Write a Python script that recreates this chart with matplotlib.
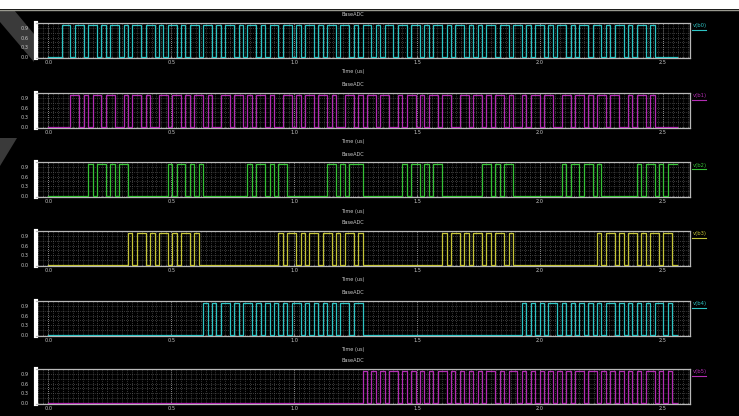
import numpy as np
import matplotlib
matplotlib.use("Agg")
import matplotlib.pyplot as plt
from matplotlib.patches import Polygon

# Sample clock of the logic traces (one character per clock period)
CLOCK_US = 0.018

signal_names = ["v(b0)", "v(b1)", "v(b2)", "v(b3)", "v(b4)", "v(b5)"]
signal_colors = ["#2ec4c4", "#b32db3", "#36c236", "#c4c438", "#2ec4c4", "#b32db3"]

# Logic levels of each ADC bit, one character per clock, grouped by 10 clocks
b0_bits = ("0001101101 1010110101 1011010110 1011011010 1101011010 "
           "1101101011 0101101101 0110101101 1011010110 1011010101 "
           "1011011010 1101011010 1101101011 0101101000 00")
b1_bits = ("0000011010 1101100101 1010011011 0101101001 1011010110 "
           "1001101011 0110100110 1011011001 0110101101 1001101101 "
           "0110100101 1011001101 1010110110 0101101000 00")
b2_bits = ("0000000001 0110101100 0000000101 1010100000 0000010110 "
           "1011000000 0001101011 1000000000 1011010110 0000000011 "
           "0101100000 0000001011 0110100000 0001011010 11")
b3_bits = ("0000000000 0000000010 1101011010 1101000000 0000000000 "
           "0010110101 1011010110 1000000000 0000000001 0110101101 "
           "0110100000 0000000000 0000101101 0110101101 10")
b4_bits = ("0000000000 0000000000 0000000000 0000010101 1010110101 "
           "0101011010 1010101101 1000000000 0000000000 0000000000 "
           "0000000101 0101101010 1010101101 0101010110 10")
b5_bits = ("0000000000 0000000000 0000000000 0000000000 0000000000 "
           "0000000000 0000000000 0101010110 1010101011 0101010101 "
           "1010110101 0101010101 1011010101 0101011010 10")
bit_strings = [b0_bits, b1_bits, b2_bits, b3_bits, b4_bits, b5_bits]

x_ticks = [0.0, 0.5, 1.0, 1.5, 2.0, 2.5]
y_ticks = [0.0, 0.3, 0.6, 0.9]
HIGH_LEVEL = 1.0

W, H = 739, 416
fig = plt.figure(figsize=(W / 100, H / 100), dpi=100)
fig.patch.set_facecolor("black")

# window chrome: white strip along the top and a dark chevron at the left
fig.add_artist(plt.Rectangle((0, 1 - 9 / H), 1, 9 / H, transform=fig.transFigure,
                             facecolor="white", edgecolor="none", zorder=0))
fig.add_artist(plt.Line2D([0, 1], [1 - 9.5 / H, 1 - 9.5 / H], transform=fig.transFigure,
                          color="#9a9a90", lw=1.0))
chevron_upper = [(0, 10), (14, 10), (34, 34), (34, 62), (0, 22)]
chevron_lower = [(0, 138), (17, 138), (0, 166)]
for shape in (chevron_upper, chevron_lower):
    fig.add_artist(Polygon([(x / W, 1 - y / H) for x, y in shape], closed=True,
                           transform=fig.transFigure, facecolor="#3a3a3a",
                           edgecolor="none", zorder=0))

left_px, right_px = 36, 690
panel_tops = [23, 93, 162, 231, 301, 369]
panel_h = 35
label_color = "#c8c8c8"

for i, (name, color, bits) in enumerate(zip(signal_names, signal_colors, bit_strings)):
    top = panel_tops[i]
    ax = fig.add_axes([left_px / W, 1 - (top + panel_h) / H,
                       (right_px - left_px) / W, panel_h / H])
    ax.set_facecolor("black")

    levels = np.array([HIGH_LEVEL if c == "1" else 0.0 for c in "".join(bits.split())])
    t = np.arange(len(levels) + 1) * CLOCK_US
    ax.step(t, np.append(levels, levels[-1]), where="post", color=color, lw=0.9, zorder=3)

    ax.set_xlim(-0.05, 2.61)
    ax.set_ylim(-0.03, 1.05)

    ax.set_xticks(x_ticks)
    ax.set_xticklabels([f"{v:.1f}" for v in x_ticks])
    ax.set_xticks(np.arange(-0.04, 2.61, 0.02), minor=True)
    ax.set_yticks(y_ticks)
    ax.set_yticklabels([f"{v:.1f}" for v in y_ticks])
    ax.set_yticks(np.arange(0.0, 1.06, 0.15), minor=True)

    ax.grid(which="minor", color="#6e6e6e", linestyle=(0, (1, 2)), lw=0.5)
    ax.grid(which="major", axis="x", color="#bdbdbd", linestyle=(0, (1, 1.5)), lw=0.6)
    ax.grid(which="major", axis="y", color="#6e6e6e", linestyle=(0, (1, 2)), lw=0.5)

    ax.tick_params(axis="both", which="both", colors=label_color, labelsize=3.6,
                   length=1.5, width=0.5, pad=1.5)
    ax.tick_params(axis="y", which="both", length=0, pad=5)
    ax.tick_params(axis="x", which="minor", length=1.0)
    ax.tick_params(right=True, which="both", direction="in")

    for side in ["top", "bottom", "right"]:
        ax.spines[side].set_color("#b8b8b8")
        ax.spines[side].set_linewidth(0.9)
    ax.spines["left"].set_color("white")
    ax.spines["left"].set_linewidth(3.0)

    fig.text(353 / W, 1 - (top - 8) / H, "BaseADC", color=label_color,
             fontsize=3.6, ha="center", va="center")
    if i < len(signal_names) - 1:
        fig.text(353 / W, 1 - (top + panel_h + 14) / H, "Time (us)", color=label_color,
                 fontsize=3.6, ha="center", va="center")

    # trace name tag with underline at the right edge
    fig.text(693 / W, 1 - (top + 3) / H, name, color=color, fontsize=3.8,
             ha="left", va="center")
    fig.add_artist(plt.Line2D([692 / W, 706 / W], [1 - (top + 7) / H, 1 - (top + 7) / H],
                              transform=fig.transFigure, color=color, lw=0.8))

fig.savefig("out.png", dpi=100, facecolor=fig.get_facecolor())
